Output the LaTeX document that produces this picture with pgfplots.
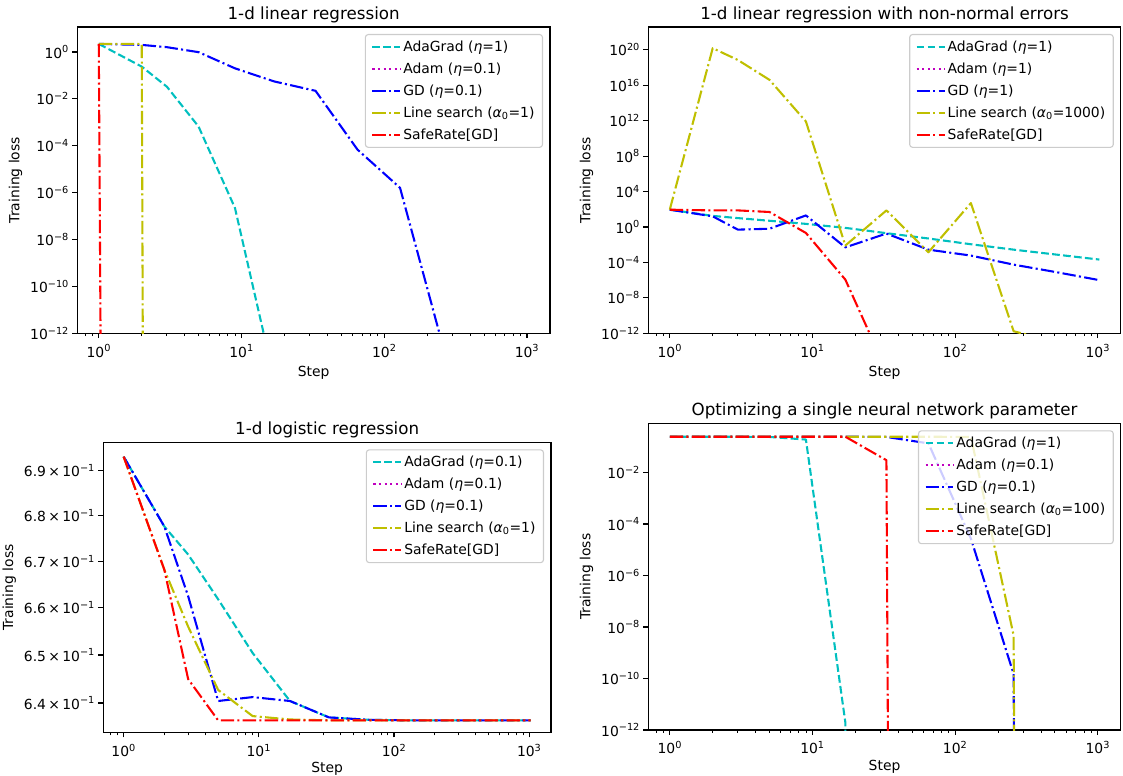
\documentclass[border=0pt]{standalone}
\usepackage{fontspec}
\setmainfont{DejaVu Sans}
\usepackage{pgfplots}
\pgfplotsset{compat=1.18}
\definecolor{mc}{rgb}{0,0.75,0.75}
\definecolor{mm}{rgb}{0.75,0,0.75}
\definecolor{mb}{rgb}{0,0,1}
\definecolor{my}{rgb}{0.75,0.75,0}
\definecolor{mr}{rgb}{1,0,0}
\newcommand\tfont{\fontsize{13.9bp}{16.7bp}\selectfont}
\newcommand\tenp[1]{10\textsuperscript{#1}}
\newcommand\eeta{\textit{η}}
\newcommand\alz{\textit{α}\textsubscript{0}}
\newcommand\lgt[1]{#1{\,}×{\,}10\textsuperscript{−1}}
\tikzset{
  adag/.style={color=mc, line width=2.08bp, line join=round, dash pattern=on 7.7bp off 3.3bp},
  adam/.style={color=mm, line width=2.08bp, line join=round, dash pattern=on 2.08bp off 3.44bp},
  gdst/.style={color=mb, line width=2.08bp, line join=round, dash pattern=on 13.3bp off 3.3bp on 2.08bp off 3.3bp},
  lsst/.style={color=my, line width=2.08bp, line join=round, dash pattern=on 13.3bp off 3.3bp on 2.08bp off 3.3bp},
  srst/.style={color=mr, line width=2.08bp, line join=round, dash pattern=on 13.3bp off 3.3bp on 2.08bp off 3.3bp},
}
\pgfplotsset{
  legend image code/.code={\draw[#1] (0bp,0bp) -- (27.8bp,0bp);},
  every axis/.append style={
    scale only axis, anchor=south west,
    xmode=log, ymode=log, log basis x=10, log basis y=10,
    xmin=0.7072, xmax=1449.5,
    axis line style={line width=1.1bp},
    major tick style={line width=1.1bp, black},
    minor tick style={line width=0.83bp, black},
    tick align=outside, tick pos=left,
    major tick length=4.9bp, minor tick length=2.8bp,
    xtick={1,10,100,1000},
    xticklabels={\tenp{0},\tenp{1},\tenp{2},\tenp{3}},
    minor xtick={0.8,0.9,2,3,4,5,6,7,8,9,20,30,40,50,60,70,80,90,200,300,400,500,600,700,800,900},
    ticklabel style={font=\tfont},
    xticklabel style={yshift=-3bp},
    xlabel={Step}, ylabel={Training loss},
    label style={font=\tfont},
    xlabel style={yshift=-2bp},
    ylabel style={yshift=1bp},
    title style={font=\fontsize{16.7bp}{20bp}\selectfont, yshift=-5bp},
    legend cell align=left,
    legend style={at={(1,1)}, anchor=north east, xshift=-7bp, yshift=-7bp,
      draw=white!80!black, line width=1.1bp, rounded corners=2.8bp,
      fill=white, fill opacity=0.8, draw opacity=1, text opacity=1,
      font=\tfont, inner xsep=6bp, inner ysep=4.5bp, row sep=5.9bp},
  },
}
\begin{document}
\begin{tikzpicture}
\path[use as bounding box] (0,0) rectangle (1123bp,776bp);

% Panel 1
\begin{axis}[at={(77.3bp,442.7bp)}, width=472.7bp, height=306.3bp,
  title={1-d linear regression},
  ymin=1e-12, ymax=11.6,
  ytick={1e-12,1e-10,1e-8,1e-6,1e-4,1e-2,1},
  yticklabels={\tenp{−12},\tenp{−10},\tenp{−8},\tenp{−6},\tenp{−4},\tenp{−2},\tenp{0}},
]
\addplot[adag] coordinates {(1,2.2)(2,0.237)(3,0.033)(5,6.6e-4)(9,2.2e-7)(17,1e-14)(33,1e-30)};
\addlegendentry{AdaGrad (\eeta=1)}
\addlegendimage{adam}
\addlegendentry{Adam (\eeta=0.1)}
\addplot[gdst] coordinates {(1,2.2)(2,2.0)(3,1.6)(5,0.98)(9,0.2)(17,0.055)(33,0.022)(65,6.8e-5)(129,1.6e-6)(257,3e-13)(513,1e-30)};
\addlegendentry{GD (\eeta=0.1)}
\addplot[lsst] coordinates {(1,2.2)(2,2.2)(3,1e-300)};
\addlegendentry{Line search (\alz=1)}
\addplot[srst] coordinates {(1,2.2)(2,1e-300)};
\addlegendentry{SafeRate[GD]}
\end{axis}

% Panel 2
\begin{axis}[at={(648.3bp,442.7bp)}, width=472.5bp, height=306.3bp,
  title={1-d linear regression with non-normal errors},
  ymin=1e-12, ymax=3.7e22,
  ytick={1e-12,1e-8,1e-4,1,1e4,1e8,1e12,1e16,1e20},
  yticklabels={\tenp{−12},\tenp{−8},\tenp{−4},\tenp{0},\tenp{4},\tenp{8},\tenp{12},\tenp{16},\tenp{20}},
]
\addplot[adag] coordinates {(1,89)(2,17.8)(3,10)(5,5.0)(9,2.24)(17,0.79)(33,0.2)(65,0.05)(129,0.0112)(257,2.75e-3)(513,7.6e-4)(1025,2.1e-4)};
\addlegendentry{AdaGrad (\eeta=1)}
\addlegendimage{adam}
\addlegendentry{Adam (\eeta=1)}
\addplot[gdst] coordinates {(1,89)(2,15.8)(3,0.5)(5,0.63)(9,20)(17,5e-3)(33,0.18)(65,2.75e-3)(129,5.9e-4)(257,5.6e-5)(513,7.9e-6)(1025,1e-6)};
\addlegendentry{GD (\eeta=1)}
\addplot[lsst] coordinates {(1,89)(2,1.5e20)(3,7e18)(5,4e16)(9,8e11)(17,8e-3)(33,74)(65,1.4e-3)(129,500)(257,1.7e-12)(513,1e-13)(1025,1e-16)};
\addlegendentry{Line search (\alz=1000)}
\addplot[srst] coordinates {(1,89)(2,74)(3,74)(5,49)(9,0.21)(17,1.15e-6)(33,6e-17)(65,1e-30)};
\addlegendentry{SafeRate[GD]}
\end{axis}

% Panel 3
\begin{axis}[at={(103.3bp,43.3bp)}, width=447.7bp, height=290.4bp,
  title={1-d logistic regression},
  xlabel style={yshift=3bp},
  ymin=0.6339, ymax=0.6963,
  ytick={0.64,0.65,0.66,0.67,0.68,0.69},
  yticklabels={\lgt{6.4},\lgt{6.5},\lgt{6.6},\lgt{6.7},\lgt{6.8},\lgt{6.9}},
]
\addplot[adag] coordinates {(1,0.6931)(2,0.6776)(3,0.6715)(5,0.6618)(9,0.6504)(17,0.6404)(33,0.6370)(65,0.6365)(129,0.6364)(257,0.6364)(513,0.6364)(1025,0.6364)};
\addlegendentry{AdaGrad (\eeta=0.1)}
\addlegendimage{adam}
\addlegendentry{Adam (\eeta=0.1)}
\addplot[gdst] coordinates {(1,0.6931)(2,0.6776)(3,0.6625)(5,0.6404)(9,0.6412)(17,0.6404)(33,0.6370)(65,0.6365)(129,0.6364)(257,0.6364)(513,0.6364)(1025,0.6364)};
\addlegendentry{GD (\eeta=0.1)}
\addplot[lsst] coordinates {(1,0.6931)(2,0.6682)(3,0.6560)(5,0.6427)(9,0.6373)(17,0.6366)(33,0.6364)(65,0.6364)(129,0.6364)(257,0.6364)(513,0.6364)(1025,0.6364)};
\addlegendentry{Line search (\alz=1)}
\addplot[srst] coordinates {(1,0.6931)(2,0.6682)(3,0.6450)(5,0.6364)(9,0.6364)(17,0.6364)(33,0.6364)(65,0.6364)(129,0.6364)(257,0.6364)(513,0.6364)(1025,0.6364)};
\addlegendentry{SafeRate[GD]}
\end{axis}

% Panel 4
\begin{axis}[at={(648.3bp,46bp)}, width=472.5bp, height=306.7bp,
  title={Optimizing a single neural network parameter},
  xlabel style={yshift=3bp},
  ymin=1e-12, ymax=0.813,
  ytick={1e-12,1e-10,1e-8,1e-6,1e-4,1e-2},
  yticklabels={\tenp{−12},\tenp{−10},\tenp{−8},\tenp{−6},\tenp{−4},\tenp{−2}},
]
\addplot[adag] coordinates {(1,0.245)(2,0.245)(3,0.245)(5,0.24)(9,0.19)(17,2e-12)(33,1e-300)};
\addlegendentry{AdaGrad (\eeta=1)}
\addlegendimage{adam}
\addlegendentry{Adam (\eeta=0.1)}
\addplot[gdst] coordinates {(1,0.245)(2,0.245)(3,0.245)(5,0.245)(9,0.245)(17,0.245)(33,0.24)(65,0.135)(129,2.7e-5)(257,1.5e-10)(513,1e-300)};
\addlegendentry{GD (\eeta=0.1)}
\addplot[lsst] coordinates {(1,0.245)(2,0.245)(3,0.245)(5,0.245)(9,0.245)(17,0.245)(33,0.245)(65,0.245)(129,0.24)(257,4.7e-9)(513,1e-300)};
\addlegendentry{Line search (\alz=100)}
\addplot[srst] coordinates {(1,0.245)(2,0.245)(3,0.245)(5,0.245)(9,0.245)(17,0.245)(33,0.03)(65,1e-300)};
\addlegendentry{SafeRate[GD]}
\end{axis}
\end{tikzpicture}
\end{document}
